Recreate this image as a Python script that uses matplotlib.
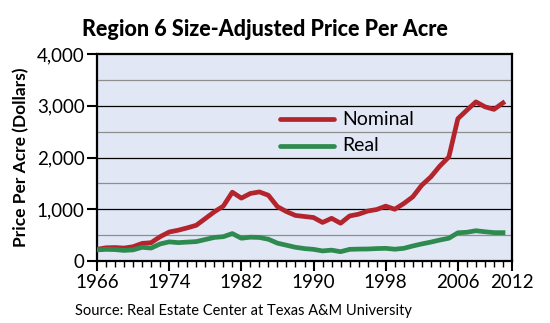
import matplotlib.pyplot as plt
import numpy as np
from matplotlib.ticker import MultipleLocator, FixedLocator

plt.rcParams['font.family'] = ['Lato', 'DejaVu Sans']

# Data
years = np.arange(1966, 2012)
nominal = [226, 255, 260, 250, 276, 340, 354, 470, 560, 595,
           640, 690, 820, 950, 1060, 1330, 1215, 1305, 1335, 1270,
           1050, 955, 880, 860, 840, 745, 825, 730, 870, 905,
           965, 995, 1060, 1000, 1110, 1240, 1465, 1625, 1835, 2010,
           2750, 2915, 3075, 2980, 2930, 3055]
real = [215, 225, 220, 205, 215, 265, 250, 330, 370, 355,
        365, 375, 415, 455, 470, 530, 440, 460, 455, 420,
        345, 305, 265, 240, 225, 195, 210, 180, 225, 230,
        232, 240, 245, 228, 245, 290, 330, 365, 405, 440,
        545, 555, 585, 565, 548, 548]
xtick_years = [1966, 1974, 1982, 1990, 1998, 2006, 2012]
ytick_labels = ['0', '1,000', '2,000', '3,000', '4,000']

fig = plt.figure(figsize=(5.5, 3.23), dpi=100)
ax = fig.add_axes([97/550, 1 - 261/323, (512-97)/550, (261-54)/323])
ax.set_facecolor('#E1E7F5')

# grid lines: grey at the half thousands, black at the thousands
for v in range(500, 4000, 500):
    ax.axhline(v, color='#000000' if v % 1000 == 0 else '#8E8E8E', lw=0.9, zorder=1)

red = '#B3242D'
green = '#2E8A4E'
ax.plot(years, nominal, color=red, lw=3.4, zorder=3)
ax.plot(years, real, color=green, lw=3.4, zorder=3)

ax.set_xlim(1966, 2012)
ax.set_ylim(0, 4000)
ax.xaxis.set_major_locator(FixedLocator(xtick_years))
ax.xaxis.set_minor_locator(MultipleLocator(1))
ax.set_yticks(np.arange(0, 4001, 1000))
ax.set_yticklabels(ytick_labels)
ax.tick_params(axis='x', which='major', direction='out', length=7, width=1.5, labelsize=13.5, pad=2)
ax.tick_params(axis='x', which='minor', direction='out', length=4, width=1.0)
ax.tick_params(axis='y', direction='out', length=7, width=1.5, labelsize=13.5, pad=2)
for s in ax.spines.values():
    s.set_linewidth(1.6)

ax.set_ylabel('Price Per Acre (Dollars)', fontsize=12.5, fontweight='bold', labelpad=5)

# legend drawn by hand inside the plot
ax.plot([1986.3, 1992.3], [2740, 2740], color=red, lw=3.4, solid_capstyle='round')
ax.plot([1986.3, 1992.3], [2230, 2230], color=green, lw=3.4, solid_capstyle='round')
ax.text(1993.2, 2740, 'Nominal', fontsize=14, va='center')
ax.text(1993.2, 2230, 'Real', fontsize=14, va='center')

fig.text(265/550, 1 - 30/323, 'Region 6 Size-Adjusted Price Per Acre',
         ha='center', va='center', fontsize=15.5, fontweight='black')
fig.text(75/550, 1 - 311/323, 'Source: Real Estate Center at Texas A&M University',
         ha='left', va='center', fontsize=10.5)

fig.savefig('out.png', dpi=100, facecolor='white')
